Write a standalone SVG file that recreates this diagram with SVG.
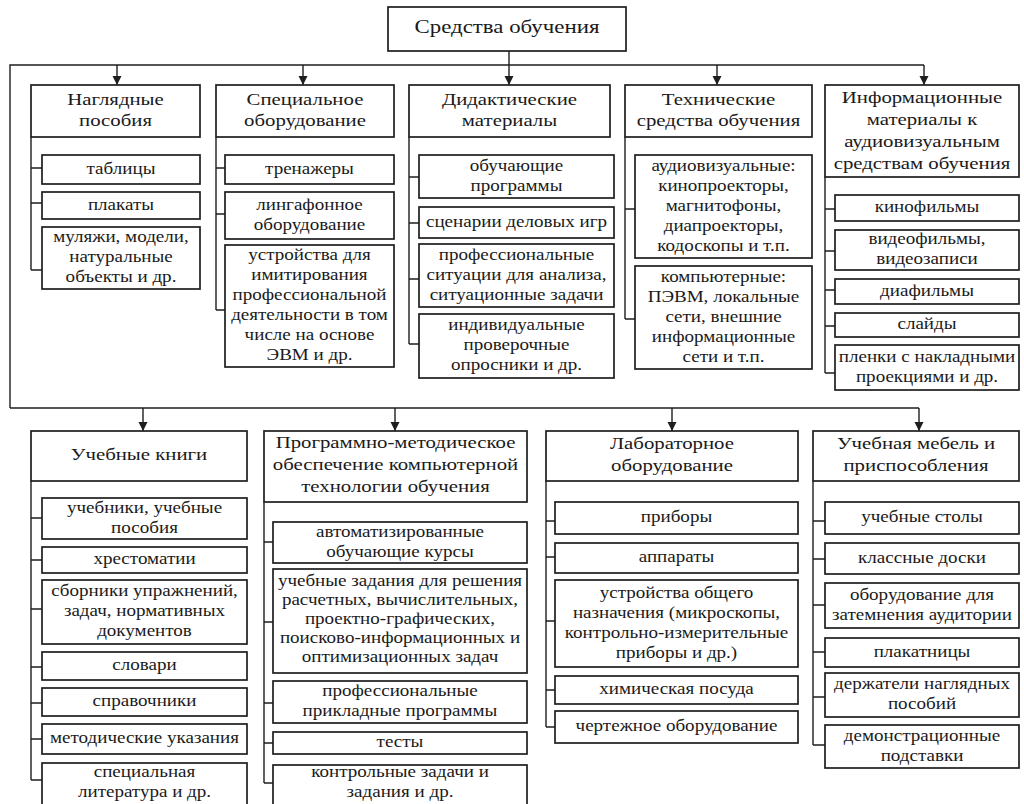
<svg xmlns="http://www.w3.org/2000/svg" width="1024" height="804" viewBox="0 0 1024 804">
<style>
rect{fill:#fff;stroke:#1e1e1e;stroke-width:1.7}
.c line,.c path{stroke:#1e1e1e;stroke-width:1.4;fill:none}
text{font-family:"Liberation Serif","Times New Roman",serif;font-size:16px;fill:#1a1a1a;text-anchor:middle}
.r text{font-size:18px}
</style>
<defs>
<marker id="a" markerWidth="10" markerHeight="10" refX="9" refY="5" orient="auto" markerUnits="userSpaceOnUse" viewBox="0 0 10 10">
<path d="M0,0.5 L9,5 L0,9.5 Z" fill="#1e1e1e"/>
</marker>
</defs>
<rect x="0" y="0" width="1024" height="804" style="fill:#fff;stroke:none"/>

<g class="c" id="connectors">
<line x1="509" y1="51" x2="509" y2="85" marker-end="url(#a)"/>
<path d="M10,408 L10,65 L924,65"/>
<line x1="117" y1="65" x2="117" y2="85" marker-end="url(#a)"/>
<line x1="303" y1="65" x2="303" y2="85" marker-end="url(#a)"/>
<line x1="717" y1="65" x2="717" y2="85" marker-end="url(#a)"/>
<line x1="924" y1="65" x2="924" y2="85" marker-end="url(#a)"/>
<path d="M10,408 L919,408"/>
<line x1="143" y1="408" x2="143" y2="431" marker-end="url(#a)"/>
<line x1="395" y1="408" x2="395" y2="431" marker-end="url(#a)"/>
<line x1="672" y1="408" x2="672" y2="431" marker-end="url(#a)"/>
<line x1="919" y1="408" x2="919" y2="431" marker-end="url(#a)"/>
<path d="M31,137 L31,270 M31,168 L42,168 M31,203 L42,203 M31,270 L42,270"/>
<path d="M216,137 L216,310 M216,168 L225,168 M216,214 L225,214 M216,310 L225,310"/>
<path d="M409,137 L409,344 M409,177 L419,177 M409,223 L419,223 M409,279 L419,279 M409,344 L419,344"/>
<path d="M625,137 L625,319 M625,209 L635,209 M625,319 L635,319"/>
<path d="M825,177 L825,373 M825,209 L835,209 M825,251 L835,251 M825,290 L835,290 M825,326 L835,326 M825,373 L835,373"/>
<path d="M31,481 L31,780 M31,518 L42,518 M31,560 L42,560 M31,609 L42,609 M31,667 L42,667 M31,703 L42,703 M31,739 L42,739 M31,780 L42,780"/>
<path d="M264,502 L264,783 M264,542 L273,542 M264,622 L273,622 M264,703 L273,703 M264,743 L273,743 M264,783 L273,783"/>
<path d="M546,481 L546,727 M546,521 L555,521 M546,557 L555,557 M546,621 L555,621 M546,690 L555,690 M546,727 L555,727"/>
<path d="M813,481 L813,745 M813,521 L825,521 M813,559 L825,559 M813,605 L825,605 M813,652 L825,652 M813,697 L825,697 M813,745 L825,745"/>
</g>

<g id="root" class="r"><rect x="388" y="7" width="238" height="44"/>
<g transform="translate(507 0) scale(1.27 1)"><text y="33">Средства обучения</text></g></g>

<g id="n1"><rect x="31" y="85" width="169" height="52"/>
<g transform="translate(115.5 0) scale(1.3 1)"><text y="105">Наглядные</text><text y="126">пособия</text></g></g>
<g id="n1a"><rect x="42" y="155" width="158" height="29"/><g transform="translate(121 0) scale(1.19 1)"><text y="174">таблицы</text></g></g>
<g id="n1b"><rect x="42" y="192" width="158" height="27"/><g transform="translate(121 0) scale(1.19 1)"><text y="210">плакаты</text></g></g>
<g id="n1c"><rect x="42" y="227" width="158" height="62"/><g transform="translate(121 0) scale(1.19 1)"><text y="242.5">муляжи, модели,</text><text y="262.5">натуральные</text><text y="282.5">объекты и др.</text></g></g>

<g id="n2"><rect x="216" y="85" width="178" height="52"/>
<g transform="translate(305 0) scale(1.3 1)"><text y="105">Специальное</text><text y="126">оборудование</text></g></g>
<g id="n2a"><rect x="225" y="155" width="169" height="29"/><g transform="translate(309.5 0) scale(1.19 1)"><text y="174">тренажеры</text></g></g>
<g id="n2b"><rect x="225" y="192" width="169" height="47"/><g transform="translate(309.5 0) scale(1.19 1)"><text y="210">лингафонное</text><text y="230">оборудование</text></g></g>
<g id="n2c"><rect x="225" y="245" width="169" height="122"/><g transform="translate(309.5 0) scale(1.19 1)"><text y="260">устройства для</text><text y="280">имитирования</text><text y="300">профессиональной</text><text y="320">деятельности в том</text><text y="340">числе на основе</text><text y="360">ЭВМ и др.</text></g></g>

<g id="n3"><rect x="409" y="85" width="201" height="52"/>
<g transform="translate(509.5 0) scale(1.3 1)"><text y="105">Дидактические</text><text y="126">материалы</text></g></g>
<g id="n3a"><rect x="419" y="155" width="195" height="43"/><g transform="translate(516.5 0) scale(1.19 1)"><text y="171">обучающие</text><text y="191">программы</text></g></g>
<g id="n3b"><rect x="419" y="207" width="195" height="31"/><g transform="translate(516.5 0) scale(1.19 1)"><text y="227.5">сценарии деловых игр</text></g></g>
<g id="n3c"><rect x="419" y="244" width="195" height="63"/><g transform="translate(516.5 0) scale(1.19 1)"><text y="260">профессиональные</text><text y="280">ситуации для анализа,</text><text y="300">ситуационные задачи</text></g></g>
<g id="n3d"><rect x="419" y="314" width="195" height="64"/><g transform="translate(516.5 0) scale(1.19 1)"><text y="330.5">индивидуальные</text><text y="350.5">проверочные</text><text y="370.5">опросники и др.</text></g></g>

<g id="n4"><rect x="625" y="85" width="187" height="52"/>
<g transform="translate(718.5 0) scale(1.3 1)"><text y="105">Технические</text><text y="126">средства обучения</text></g></g>
<g id="n4a"><rect x="635" y="155" width="177" height="103"/><g transform="translate(723.5 0) scale(1.19 1)"><text y="171">аудиовизуальные:</text><text y="191">кинопроекторы,</text><text y="211">магнитофоны,</text><text y="231">диапроекторы,</text><text y="251">кодоскопы и т.п.</text></g></g>
<g id="n4b"><rect x="635" y="266" width="177" height="103"/><g transform="translate(723.5 0) scale(1.19 1)"><text y="282">компьютерные:</text><text y="302">ПЭВМ, локальные</text><text y="322">сети, внешние</text><text y="342">информационные</text><text y="362">сети и т.п.</text></g></g>

<g id="n5"><rect x="825" y="85" width="194" height="92"/>
<g transform="translate(922 0) scale(1.3 1)"><text y="103">Информационные</text><text y="125">материалы к</text><text y="147">аудиовизуальным</text><text y="169">средствам обучения</text></g></g>
<g id="n5a"><rect x="835" y="195" width="184" height="26"/><g transform="translate(927 0) scale(1.19 1)"><text y="212.5">кинофильмы</text></g></g>
<g id="n5b"><rect x="835" y="230" width="184" height="40"/><g transform="translate(927 0) scale(1.19 1)"><text y="244.5">видеофильмы,</text><text y="264.5">видеозаписи</text></g></g>
<g id="n5c"><rect x="835" y="279" width="184" height="25"/><g transform="translate(927 0) scale(1.19 1)"><text y="296">диафильмы</text></g></g>
<g id="n5d"><rect x="835" y="313" width="184" height="24"/><g transform="translate(927 0) scale(1.19 1)"><text y="329.5">слайды</text></g></g>
<g id="n5e"><rect x="835" y="345" width="184" height="45"/><g transform="translate(927 0) scale(1.19 1)"><text y="362">пленки с накладными</text><text y="382">проекциями и др.</text></g></g>

<g id="m1"><rect x="31" y="431" width="216" height="50"/>
<g transform="translate(139 0) scale(1.3 1)"><text y="460.5">Учебные книги</text></g></g>
<g id="m1a"><rect x="42" y="498" width="205" height="41"/><g transform="translate(144.5 0) scale(1.19 1)"><text y="513">учебники, учебные</text><text y="533">пособия</text></g></g>
<g id="m1b"><rect x="42" y="547" width="205" height="26"/><g transform="translate(144.5 0) scale(1.19 1)"><text y="564.5">хрестоматии</text></g></g>
<g id="m1c"><rect x="42" y="580" width="205" height="64"/><g transform="translate(144.5 0) scale(1.19 1)"><text y="596.5">сборники упражнений,</text><text y="616.5">задач, нормативных</text><text y="636.5">документов</text></g></g>
<g id="m1d"><rect x="42" y="652" width="205" height="28"/><g transform="translate(144.5 0) scale(1.19 1)"><text y="670.5">словари</text></g></g>
<g id="m1e"><rect x="42" y="688" width="205" height="28"/><g transform="translate(144.5 0) scale(1.19 1)"><text y="706.5">справочники</text></g></g>
<g id="m1f"><rect x="42" y="724" width="205" height="30"/><g transform="translate(144.5 0) scale(1.19 1)"><text y="743.5">методические указания</text></g></g>
<g id="m1g"><rect x="42" y="763" width="205" height="50"/><g transform="translate(144.5 0) scale(1.19 1)"><text y="777.5">специальная</text><text y="797">литература и др.</text></g></g>

<g id="m2"><rect x="264" y="431" width="263" height="71"/>
<g transform="translate(395.5 0) scale(1.3 1)"><text y="448.5">Программно-методическое</text><text y="470.5">обеспечение компьютерной</text><text y="492.5">технологии обучения</text></g></g>
<g id="m2a"><rect x="273" y="522" width="254" height="41"/><g transform="translate(400 0) scale(1.19 1)"><text y="537">автоматизированные</text><text y="557">обучающие курсы</text></g></g>
<g id="m2b"><rect x="273" y="569" width="254" height="104"/><g transform="translate(400 0) scale(1.19 1)"><text y="586.5">учебные задания для решения</text><text y="605.5">расчетных, вычислительных,</text><text y="624.5">проектно-графических,</text><text y="643.5">поисково-информационных и</text><text y="662.5">оптимизационных задач</text></g></g>
<g id="m2c"><rect x="273" y="681" width="254" height="42"/><g transform="translate(400 0) scale(1.19 1)"><text y="696.5">профессиональные</text><text y="716.5">прикладные программы</text></g></g>
<g id="m2d"><rect x="273" y="732" width="254" height="22"/><g transform="translate(400 0) scale(1.19 1)"><text y="747.5">тесты</text></g></g>
<g id="m2e"><rect x="273" y="765" width="254" height="48"/><g transform="translate(400 0) scale(1.19 1)"><text y="777.5">контрольные задачи и</text><text y="797">задания и др.</text></g></g>

<g id="m3"><rect x="546" y="431" width="252" height="50"/>
<g transform="translate(672 0) scale(1.3 1)"><text y="449.5">Лабораторное</text><text y="471.5">оборудование</text></g></g>
<g id="m3a"><rect x="555" y="502" width="243" height="32"/><g transform="translate(676.5 0) scale(1.19 1)"><text y="522.5">приборы</text></g></g>
<g id="m3b"><rect x="555" y="543" width="243" height="30"/><g transform="translate(676.5 0) scale(1.19 1)"><text y="562.5">аппараты</text></g></g>
<g id="m3c"><rect x="555" y="580" width="243" height="87"/><g transform="translate(676.5 0) scale(1.19 1)"><text y="598">устройства общего</text><text y="618">назначения (микроскопы,</text><text y="638">контрольно-измерительные</text><text y="658">приборы и др.)</text></g></g>
<g id="m3d"><rect x="555" y="676" width="243" height="28"/><g transform="translate(676.5 0) scale(1.19 1)"><text y="694.5">химическая посуда</text></g></g>
<g id="m3e"><rect x="555" y="711" width="243" height="32"/><g transform="translate(676.5 0) scale(1.19 1)"><text y="731.5">чертежное оборудование</text></g></g>

<g id="m4"><rect x="813" y="431" width="206" height="50"/>
<g transform="translate(916 0) scale(1.3 1)"><text y="449.5">Учебная мебель и</text><text y="471.5">приспособления</text></g></g>
<g id="m4a"><rect x="825" y="502" width="194" height="32"/><g transform="translate(922 0) scale(1.19 1)"><text y="522.5">учебные столы</text></g></g>
<g id="m4b"><rect x="825" y="543" width="194" height="31"/><g transform="translate(922 0) scale(1.19 1)"><text y="563">классные доски</text></g></g>
<g id="m4c"><rect x="825" y="583" width="194" height="45"/><g transform="translate(922 0) scale(1.19 1)"><text y="600">оборудование для</text><text y="620">затемнения аудитории</text></g></g>
<g id="m4d"><rect x="825" y="638" width="194" height="29"/><g transform="translate(922 0) scale(1.19 1)"><text y="657">плакатницы</text></g></g>
<g id="m4e"><rect x="825" y="673" width="194" height="44"/><g transform="translate(922 0) scale(1.19 1)"><text y="689.5">держатели наглядных</text><text y="709.5">пособий</text></g></g>
<g id="m4f"><rect x="825" y="725" width="194" height="43"/><g transform="translate(922 0) scale(1.19 1)"><text y="741">демонстрационные</text><text y="761">подставки</text></g></g>
</svg>
